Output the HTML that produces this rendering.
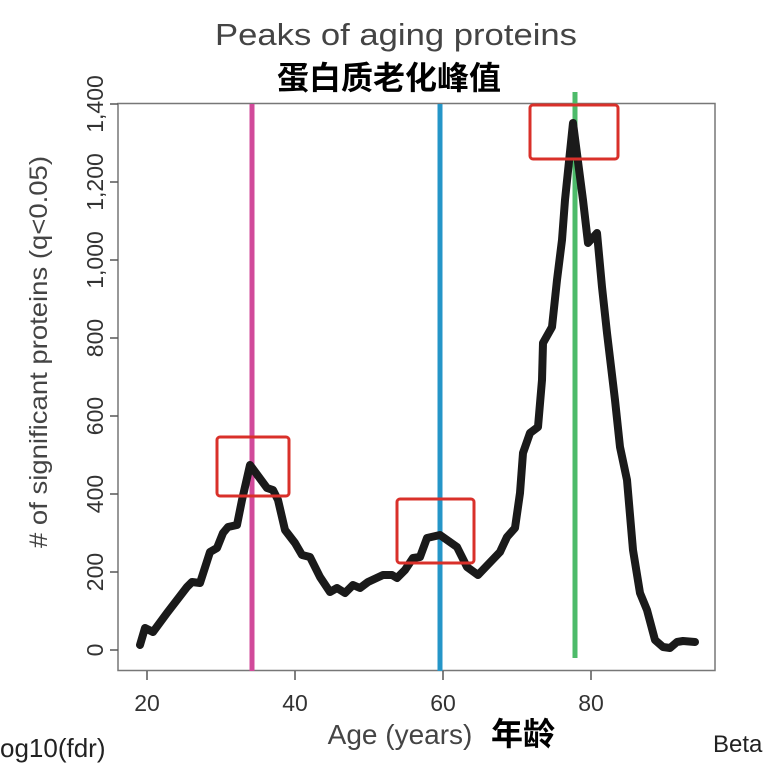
<!DOCTYPE html>
<html><head><meta charset="utf-8"><style>
html,body{margin:0;padding:0;background:#fff;width:774px;height:768px;overflow:hidden}
</style></head><body>
<svg width="774" height="768" xmlns="http://www.w3.org/2000/svg" font-family="Liberation Sans, Arial, sans-serif">
<rect width="774" height="768" fill="#fff"/>
<text x="396" y="45" font-size="31" fill="#444" text-anchor="middle" textLength="362" lengthAdjust="spacingAndGlyphs">Peaks of aging proteins</text>
<text x="389" y="89" font-size="32" font-weight="bold" fill="#000" text-anchor="middle" font-family="Liberation Sans, Noto Sans CJK SC, sans-serif">蛋白质老化峰值</text>
<rect x="118" y="103.5" width="597" height="567" fill="none" stroke="#777" stroke-width="1.5"/>
<g stroke="#555" stroke-width="1.5">
<line x1="110" y1="104" x2="118" y2="104"/><line x1="110" y1="182" x2="118" y2="182"/><line x1="110" y1="260" x2="118" y2="260"/><line x1="110" y1="338" x2="118" y2="338"/><line x1="110" y1="416" x2="118" y2="416"/><line x1="110" y1="494" x2="118" y2="494"/><line x1="110" y1="572" x2="118" y2="572"/><line x1="110" y1="650" x2="118" y2="650"/>
<line x1="147" y1="671" x2="147" y2="680"/><line x1="295" y1="671" x2="295" y2="680"/><line x1="443" y1="671" x2="443" y2="680"/><line x1="591" y1="671" x2="591" y2="680"/>
</g>
<g font-size="23" fill="#333" text-anchor="middle">
<text transform="translate(103,104) rotate(-90)">1,400</text>
<text transform="translate(103,182) rotate(-90)">1,200</text>
<text transform="translate(103,260) rotate(-90)">1,000</text>
<text transform="translate(103,338) rotate(-90)">800</text>
<text transform="translate(103,416) rotate(-90)">600</text>
<text transform="translate(103,494) rotate(-90)">400</text>
<text transform="translate(103,572) rotate(-90)">200</text>
<text transform="translate(103,650) rotate(-90)">0</text>
<text x="147" y="711">20</text><text x="295" y="711">40</text><text x="443" y="711">60</text><text x="591" y="711">80</text>
</g>
<text transform="translate(47,352) rotate(-90)" font-size="25" fill="#444" text-anchor="middle" textLength="392" lengthAdjust="spacingAndGlyphs"># of significant proteins (q&lt;0.05)</text>
<text x="400" y="744" font-size="28" fill="#444" text-anchor="middle">Age (years)</text>
<text x="523" y="745" font-size="32" font-weight="bold" fill="#000" text-anchor="middle" font-family="Liberation Sans, Noto Sans CJK SC, sans-serif">年龄</text>
<text x="0" y="757" font-size="26" fill="#222">og10(fdr)</text>
<text x="713" y="752" font-size="24" fill="#222">Beta</text>
<line x1="252" y1="104" x2="252" y2="671" stroke="#d14a9a" stroke-width="5"/>
<line x1="440" y1="104" x2="440" y2="671" stroke="#2596c8" stroke-width="5"/>
<line x1="575" y1="92" x2="575" y2="658" stroke="#4dbb6a" stroke-width="5"/>
<polyline fill="none" stroke="#1a1a1a" stroke-width="8" stroke-linejoin="round" stroke-linecap="round" points="140,645 145,628 153,632 167,613 187,587 192,582 200,583 210,552 217,548 223,533 228,527 237,525 242,500 250,465 267,488 273,490 278,500 285,530 295,543 302,555 310,557 320,577 330,592 337,588 345,593 353,585 360,588 368,582 383,575 392,575 397,578 405,570 413,558 420,557 427,538 440,535 457,547 467,567 478,575 500,552 507,537 515,528 520,493 523,453 530,433 538,427 542,380 543,343 552,327 557,280 562,240 565,200 573,123 583,200 588,243 597,233 602,287 607,333 615,400 620,447 627,480 633,550 640,593 647,610 655,640 663,647 670,648 677,642 683,641 695,642"/>
<g fill="none" stroke="#d9302a" stroke-width="3">
<rect x="217" y="437" width="72" height="59" rx="3"/>
<rect x="397" y="499" width="77" height="64" rx="3"/>
<rect x="530" y="105" width="88" height="54" rx="3"/>
</g>
</svg>
</body></html>
